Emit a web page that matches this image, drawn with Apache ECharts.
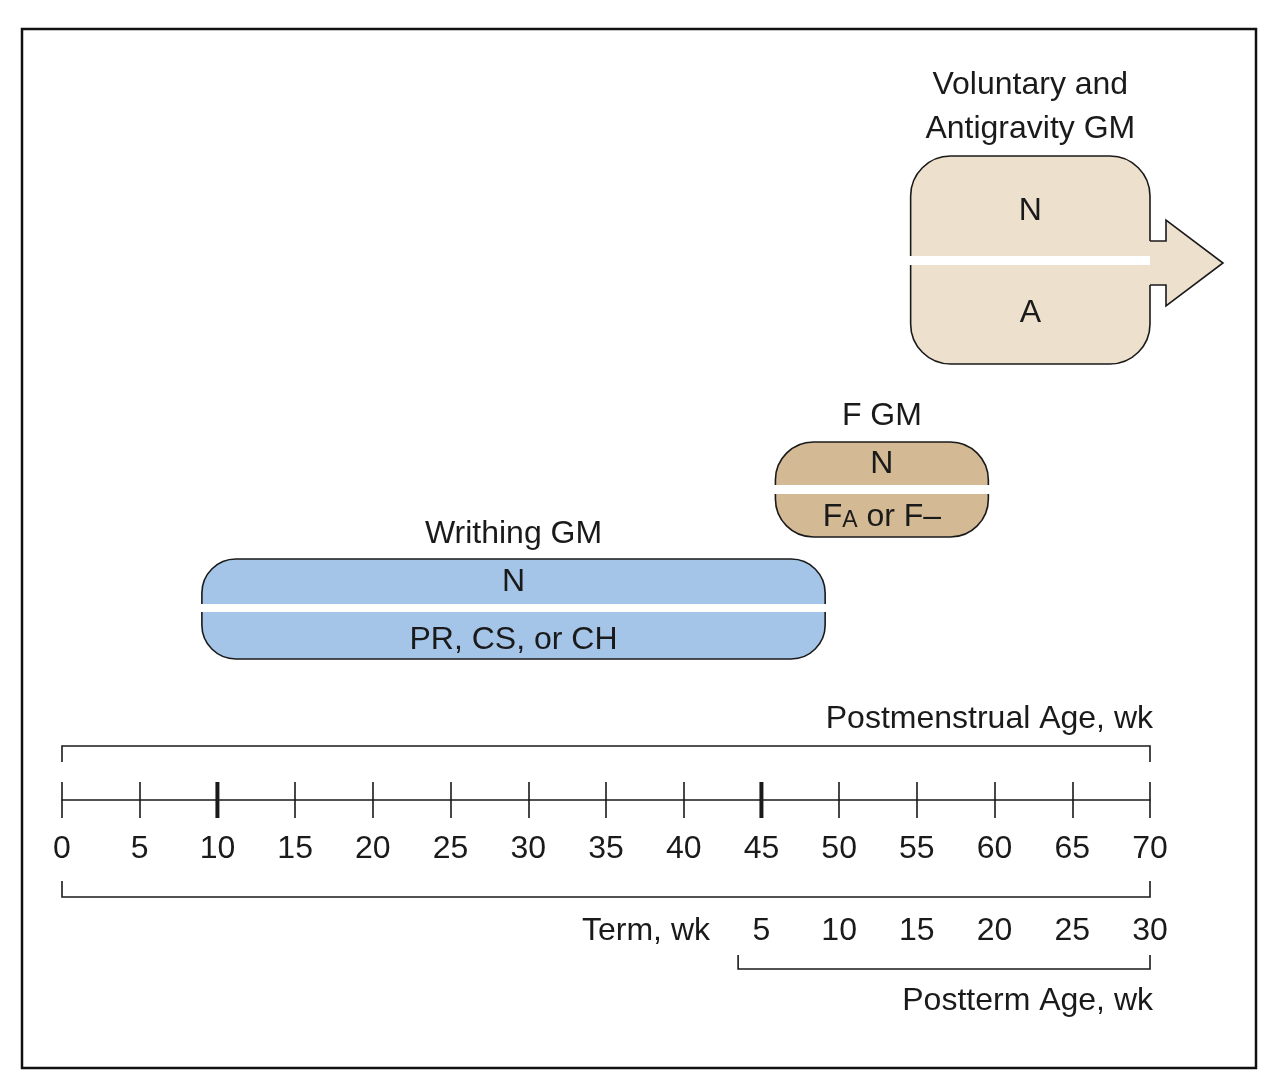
<!DOCTYPE html>
<html>
<head>
<meta charset="utf-8">
<script src="https://cdn.jsdelivr.net/npm/echarts@6/dist/echarts.min.js"></script>
<style>
  html, body { margin: 0; background: #fff; }
  #main { width: 1280px; height: 1077px; }
</style>
</head>
<body>
<div id="main"></div>
<script>
// GM stages, postmenstrual age in weeks
var stageNames = ['Writhing GM', 'F GM', 'Voluntary and\nAntigravity GM'];
var stageStart = [9, 45.9, 54.6];
var stageEnd = [49.1, 59.6, 70];
var normalLabels = ['N', 'N', 'N'];
var abnormalLabels = ['PR, CS, or CH', '{b|F}{s|A}{b| or F–}', 'A'];
var hasArrow = [false, false, true];

// axis
var pmaMin = 0;
var pmaMax = 70;
var pmaStep = 5;
var thickTicks = [10, 45];
var termWeek = 40;
var postTermTicks = [5, 10, 15, 20, 25, 30];
var postTermStart = 43.5;

// brackets (from / to in postmenstrual weeks)
var bracketFrom = [pmaMin, pmaMin, postTermStart];
var bracketTo = [pmaMax, pmaMax, pmaMax];

// pixel layout, not data
var FONT = "'Liberation Sans', Arial, sans-serif";
var INK = '#1a1a1a';
var boxLayout = [
    {top: 559, bottom: 659, band: 604, bandH: 8, r: 34, nY: 582, aY: 640, titleY: 534, fill: '#a4c4e8'},
    {top: 442, bottom: 537, band: 485, bandH: 9, r: 38, nY: 464, aY: 517, titleY: 416, fill: '#d3b994'},
    {top: 156, bottom: 364, band: 256, bandH: 9, r: 40, nY: 211, aY: 313, titleY: 107, fill: '#ede0cc'}
];
var bracketLayout = [
    {y: 746, tip: 762},
    {y: 897, tip: 881},
    {y: 969, tip: 955}
];
var AXIS_Y = 800;

var chart = echarts.init(document.getElementById('main'));

function renderBox(params, api) {
    var i = api.value(2);
    var L = boxLayout[i];
    var x0 = api.coord([api.value(0), 0])[0];
    var x1 = api.coord([api.value(1), 0])[0];
    var y0 = api.coord([0, L.top])[1];
    var y1 = api.coord([0, L.bottom])[1];
    var cx = (x0 + x1) / 2;
    var kids = [];

    kids.push({
        type: 'rect',
        shape: {x: x0, y: y0, width: x1 - x0, height: y1 - y0, r: L.r},
        style: {fill: L.fill, stroke: INK, lineWidth: 1.6}
    });

    if (hasArrow[i]) {
        var sTop = L.band - 15, sBot = L.band + L.bandH + 20;
        var hTop = sTop - 21, hBot = sBot + 21;
        var sx = x1 + 16, tip = x1 + 73, my = (hTop + hBot) / 2;
        kids.push({
            type: 'polygon',
            shape: {points: [[x1 - 2, sTop], [sx, sTop], [sx, hTop], [tip, my], [sx, hBot], [sx, sBot], [x1 - 2, sBot]]},
            style: {fill: L.fill, stroke: null}
        });
        kids.push({
            type: 'polyline',
            shape: {points: [[x1, sTop], [sx, sTop], [sx, hTop], [tip, my], [sx, hBot], [sx, sBot], [x1, sBot]]},
            style: {fill: null, stroke: INK, lineWidth: 1.6}
        });
    }

    kids.push({
        type: 'rect',
        shape: {x: x0 - 2, y: L.band, width: x1 - x0 + (hasArrow[i] ? 2 : 4), height: L.bandH},
        style: {fill: '#fff'}
    });

    var txt = function (t, y, extra, lh) {
        var s = {
            text: t, x: cx, y: y, fill: INK,
            font: '32px ' + FONT, align: 'center', verticalAlign: 'middle'
        };
        if (lh) s.lineHeight = lh;
        if (extra) s.rich = extra;
        return {type: 'text', style: s};
    };
    kids.push(txt(stageNames[i], L.titleY, null, 44));
    kids.push(txt(normalLabels[i], L.nY));
    kids.push(txt(abnormalLabels[i], L.aY, {
        b: {fontSize: 32, fontFamily: FONT, color: INK, verticalAlign: 'bottom'},
        s: {fontSize: 23, fontFamily: FONT, color: INK, verticalAlign: 'bottom', padding: [0, 0, 1, 0]}
    }));
    return {type: 'group', children: kids};
}

function renderBracket(params, api) {
    var i = api.value(2);
    var B = bracketLayout[i];
    var x0 = api.coord([api.value(0), 0])[0];
    var x1 = api.coord([api.value(1), 0])[0];
    return {
        type: 'polyline',
        shape: {points: [[x0, B.tip], [x0, B.y], [x1, B.y], [x1, B.tip]]},
        style: {fill: null, stroke: INK, lineWidth: 1.6}
    };
}

function renderThick(params, api) {
    var p = api.coord([api.value(0), AXIS_Y]);
    return {
        type: 'line',
        shape: {x1: p[0], y1: p[1] - 18, x2: p[0], y2: p[1] + 18},
        style: {stroke: INK, lineWidth: 4}
    };
}

var tickBase = {
    type: 'value', min: pmaMin, max: pmaMax, interval: pmaStep,
    position: 'bottom', splitLine: {show: false}
};

chart.setOption({
    animation: false,
    grid: {left: 62, top: 0, width: 1088, height: AXIS_Y},
    xAxis: [
        Object.assign({}, tickBase, {
            axisLine: {show: true, onZero: false, lineStyle: {color: INK, width: 1.6}},
            axisTick: {show: true, length: 18, lineStyle: {color: INK, width: 1.6}},
            axisLabel: {
                show: true, margin: 33, color: INK, fontSize: 32, fontFamily: FONT,
                lineHeight: 32, showMinLabel: true, showMaxLabel: true
            }
        }),
        Object.assign({}, tickBase, {
            axisLine: {show: false, onZero: false},
            axisTick: {show: true, inside: true, length: 18, lineStyle: {color: INK, width: 1.6}},
            axisLabel: {show: false}
        }),
        {
            type: 'value', min: pmaMin - termWeek, max: pmaMax - termWeek, interval: pmaStep,
            position: 'bottom', offset: 100, splitLine: {show: false},
            axisLine: {show: false, onZero: false}, axisTick: {show: false},
            axisLabel: {
                show: true, margin: 15, color: INK, fontSize: 32, fontFamily: FONT, lineHeight: 32,
                showMaxLabel: true,
                formatter: function (v) { return postTermTicks.indexOf(v) >= 0 ? String(v) : ''; }
            }
        }
    ],
    yAxis: {type: 'value', min: 0, max: AXIS_Y, inverse: true, show: false},
    series: [
        {
            type: 'custom', coordinateSystem: 'cartesian2d', clip: false, silent: true,
            renderItem: renderBracket,
            data: bracketFrom.map(function (f, i) { return [f, bracketTo[i], i]; })
        },
        {
            type: 'custom', coordinateSystem: 'cartesian2d', clip: false, silent: true,
            renderItem: renderThick,
            data: thickTicks.map(function (t) { return [t, AXIS_Y]; })
        },
        {
            type: 'custom', coordinateSystem: 'cartesian2d', clip: false, silent: true,
            renderItem: renderBox,
            data: stageStart.map(function (s, i) { return [s, stageEnd[i], i]; })
        }
    ],
    graphic: [
        {type: 'rect', shape: {x: 22, y: 29, width: 1234, height: 1039},
         style: {fill: null, stroke: '#111', lineWidth: 2.5}, z: -1},
        {type: 'text', style: {text: 'Postmenstrual Age, wk', x: 1153, y: 719, align: 'right',
         verticalAlign: 'middle', font: '32px ' + FONT, fill: INK}},
        {type: 'text', style: {text: 'Term, wk', x: 710, y: 931, align: 'right',
         verticalAlign: 'middle', font: '32px ' + FONT, fill: INK}},
        {type: 'text', style: {text: 'Postterm Age, wk', x: 1153, y: 1001, align: 'right',
         verticalAlign: 'middle', font: '32px ' + FONT, fill: INK}}
    ]
});
</script>
</body>
</html>
